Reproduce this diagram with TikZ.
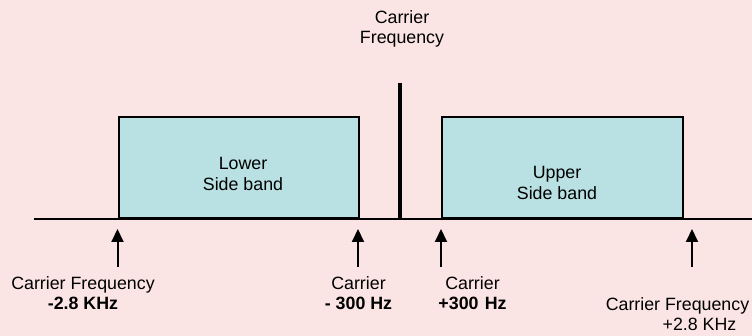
\documentclass[tikz,border=0pt]{standalone}
\usepackage{fontspec}
\setmainfont{Liberation Sans}
\usetikzlibrary{arrows.meta}
\definecolor{bgpink}{RGB}{251,228,228}
\definecolor{bandfill}{RGB}{185,224,226}
\begin{document}
\begin{tikzpicture}[x=1pt,y=-1pt,
  band/.style={draw=black,line width=2pt,fill=bandfill,minimum width=#1,minimum height=101pt,anchor=south west,inner sep=0pt},
  lbl/.style={align=center,anchor=north,inner sep=0pt,font=\fontsize{17.8}{20.7}\selectfont},
  uparrow/.style={line width=2pt,-{Triangle[width=12pt,length=13pt]}},
  axis/.style={line width=2pt},
  carrier/.style={line width=4.5pt}]
\fill[bgpink] (0,0) rectangle (752,336);
\useasboundingbox (0,0) rectangle (752,336);
% axis
\coordinate (axl) at (34,219.3);
\coordinate (axr) at (752,219.3);
\draw[axis] (axl) -- (axr);
% bands
\node[band=240pt] (lsb) at (117.5,219.3) {};
\node[band=241pt] (usb) at (441,219.3) {};
\node[lbl] (lsbt) at (243,157.2) {Lower\\Side band};
\node[lbl] (usbt) at (557,166.2) {Upper\\Side band};
% carrier
\coordinate (cb) at (400,219.3);
\coordinate (ct) at (400,83);
\draw[carrier] (cb) -- (ct);
\node[lbl] (ctxt) at (402,10.2) {Carrier\\Frequency};
% arrows
\coordinate (a1b) at (117.5,267); \coordinate (a1t) at (117.5,229);
\coordinate (a2b) at (358,267); \coordinate (a2t) at (358,229);
\coordinate (a3b) at (441,267); \coordinate (a3t) at (441,229);
\coordinate (a4b) at (692,267); \coordinate (a4t) at (692,229);
\draw[uparrow] (a1b) -- (a1t);
\draw[uparrow] (a2b) -- (a2t);
\draw[uparrow] (a3b) -- (a3t);
\draw[uparrow] (a4b) -- (a4t);
% labels
\node[lbl] (l1) at (83,276.2) {Carrier Frequency\\\textbf{-2.8 KHz}};
\node[lbl] (l2) at (358.5,276.2) {Carrier\\\textbf{- 300 Hz}};
\node[lbl] (l3) at (472.5,276.2) {Carrier\\\textbf{+300\hspace{0.35em}Hz}};
\node[lbl] (l4) at (677.5,297.2) {Carrier Frequency\\\hspace*{44pt}+2.8 KHz};
\end{tikzpicture}
\end{document}
